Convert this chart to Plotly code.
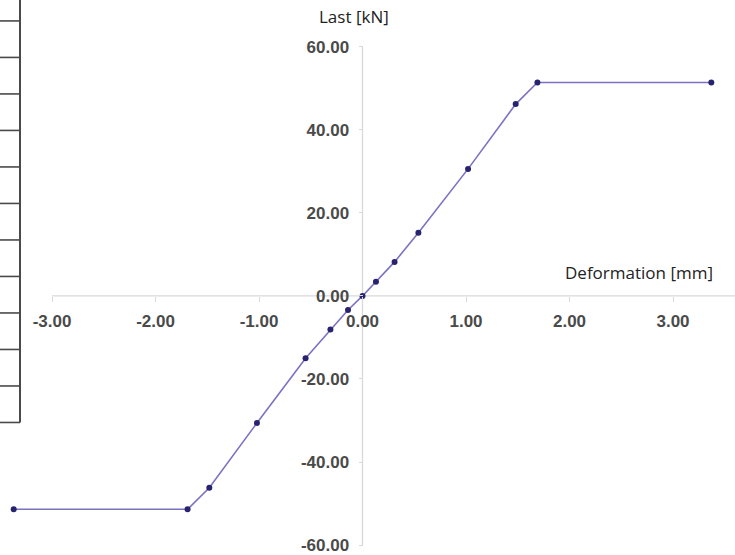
import plotly.graph_objects as go

# Data
deformation_mm = [-3.37, -1.69, -1.48, -1.02, -0.55, -0.31, -0.14, 0.0, 0.13, 0.31, 0.54, 1.02, 1.48, 1.69, 3.37]
load_kN = [-51.4, -51.4, -46.2, -30.6, -15.0, -8.1, -3.4, 0.0, 3.4, 8.2, 15.2, 30.6, 46.2, 51.4, 51.4]
x_ticks = [-3, -2, -1, 0, 1, 2, 3]
x_tick_labels = ["-3.00", "-2.00", "-1.00", "0.00", "1.00", "2.00", "3.00"]
y_ticks = [-60, -40, -20, 0, 20, 40, 60]
y_tick_labels = ["-60.00", "-40.00", "-20.00", "0.00", "20.00", "40.00", "60.00"]
x_title = "Deformation [mm]"
y_title = "Last [kN]"

W, H = 735, 555
# pixel mapping of the reference
x0_px, x_scale = 362.5, 103.5
y0_px, y_scale = 297.0, 500.0 / 120.0

x_range = [(0 - x0_px) / x_scale, (W - x0_px) / x_scale]
y_range = [(y0_px - H) / y_scale, (y0_px - 0) / y_scale]

axis_col = "#d9d9d9"
tick_font = dict(family="Liberation Sans, Arial", size=17, color="#4a4a4a", weight="bold")

fig = go.Figure()
fig.add_trace(go.Scatter(
    x=deformation_mm, y=load_kN, mode="lines+markers",
    line=dict(color="#7c72c2", width=1.6),
    marker=dict(color="#28236e", size=6, symbol="circle"),
    cliponaxis=False, showlegend=False, hoverinfo="skip",
))

fig.update_layout(
    width=W, height=H,
    margin=dict(l=0, r=0, t=0, b=0),
    paper_bgcolor="white", plot_bgcolor="white",
    xaxis=dict(
        range=x_range, domain=[0, 1], tickvals=x_ticks, ticktext=x_tick_labels,
        anchor="free", position=(H - y0_px) / H, side="bottom",
        showgrid=False, zeroline=False, showline=False,
        ticks="outside", ticklen=5, tickcolor=axis_col, tickwidth=1,
        tickfont=tick_font, ticklabelstandoff=5, ticklabeloverflow="allow",
    ),
    yaxis=dict(
        range=y_range, domain=[0, 1], tickvals=y_ticks, ticktext=y_tick_labels,
        anchor="free", position=x0_px / W, side="left",
        showgrid=False, zeroline=False, showline=False,
        ticks="outside", ticklen=4, tickcolor=axis_col, tickwidth=1,
        tickfont=tick_font, ticklabelstandoff=6, ticklabeloverflow="allow",
    ),
)

shapes = [
    # axis lines
    dict(type="line", xref="x", yref="y", x0=x_ticks[0], x1=x_range[1], y0=0, y1=0,
         line=dict(color=axis_col, width=1.3), layer="below"),
    dict(type="line", xref="x", yref="y", x0=0, x1=0, y0=y_ticks[0], y1=y_ticks[-1],
         line=dict(color=axis_col, width=1.3), layer="below"),
]
# cut-off table at left edge
tbl_col = "#4a4a4a"
shapes.append(dict(type="line", xref="paper", yref="paper", x0=20 / W, x1=20 / W,
                   y0=1, y1=(H - 424) / H, line=dict(color=tbl_col, width=2)))
for k in range(12):
    yy = 21 + k * (403 / 11)
    shapes.append(dict(type="line", xref="paper", yref="paper", x0=0, x1=20 / W,
                       y0=(H - yy) / H, y1=(H - yy) / H, line=dict(color=tbl_col, width=1.6)))
fig.update_layout(shapes=shapes)

title_font = dict(family="Open Sans", size=17, color="#222222")
fig.add_annotation(text=y_title, xref="paper", yref="paper", x=354 / W, y=(H - 17) / H,
                   showarrow=False, font=title_font, xanchor="center", yanchor="middle")
fig.add_annotation(text=x_title, xref="paper", yref="paper", x=715 / W, y=(H - 273) / H,
                   showarrow=False, font=title_font, xanchor="right", yanchor="middle")

fig.write_html("out.html", config={"displayModeBar": False},
               post_script="document.body.style.margin='0';document.body.style.padding='0';")
